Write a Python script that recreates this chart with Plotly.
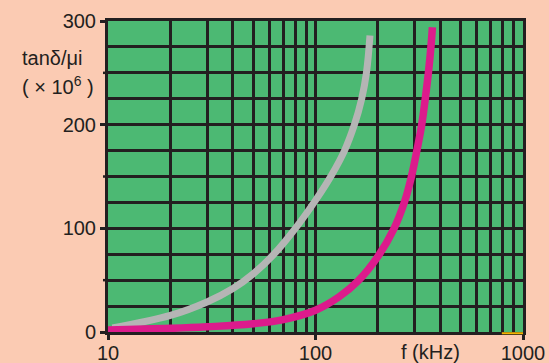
import plotly.graph_objects as go

# Frequency (kHz) and loss factor tanδ/μi (×10^-6) for the two materials
gray_freq = [10.5, 20, 30, 40, 50, 63, 80, 100, 120, 138, 154, 167, 176, 183]
gray_loss = [4, 16, 29, 42, 56, 75, 100, 127, 152, 175, 200, 225, 250, 286]

pink_freq = [10, 20, 30, 50, 70, 100, 130, 160, 200, 238, 268, 290, 308, 325, 338, 350, 360, 366]
pink_loss = [2, 3.5, 5, 8, 12, 21, 34, 49, 73, 99, 125, 150, 175, 200, 225, 250, 275, 294]

# Axis ticks and grid positions
y_ticks = [0, 100, 200, 300]
y_labels = ["0", "100", "200", "300"]
y_half_ticks = [50, 150, 250]
y_minor = [25, 50, 75, 125, 150, 175, 225, 250, 275]
x_ticks = [10, 100, 1000]
x_labels = ["10", "100", "1000"]
x_minor = [20, 30, 40, 50, 60, 70, 80, 90, 200, 300, 400, 500, 600, 700, 800, 900]

INK = "#231f20"
FONT = "Liberation Sans, Arial, sans-serif"
W, H = 549, 363
ML, MR, MT, MB = 108, 26, 21, 31

fig = go.Figure()
fig.add_trace(go.Scatter(
    x=gray_freq, y=gray_loss, mode="lines",
    line=dict(color="#b5b5b5", width=7, shape="spline", smoothing=1.1),
    showlegend=False, hoverinfo="skip"))
fig.add_trace(go.Scatter(
    x=pink_freq, y=pink_loss, mode="lines",
    line=dict(color="#dc1b8c", width=7.5, shape="spline", smoothing=1.2),
    showlegend=False, hoverinfo="skip"))

fig.update_layout(
    width=W, height=H,
    margin=dict(l=ML, r=MR, t=MT, b=MB, autoexpand=False),
    paper_bgcolor="#fbcbb3",
    plot_bgcolor="#4cb973",
    font=dict(family=FONT, size=20, color=INK),
    xaxis=dict(
        type="log", range=[1, 3], automargin=False,
        tickmode="array", tickvals=x_ticks, ticktext=x_labels,
        ticks="outside", ticklen=5, tickwidth=2.5, tickcolor=INK,
        ticklabelstandoff=-4,
        showgrid=True, gridcolor=INK, gridwidth=2.5,
        showline=True, linecolor=INK, linewidth=3, mirror=True,
        minor=dict(tickvals=x_minor, showgrid=True, gridcolor=INK, gridwidth=2.5, ticks=""),
        zeroline=False,
    ),
    yaxis=dict(
        range=[0, 300], automargin=False,
        tickmode="array", tickvals=y_ticks, ticktext=y_labels,
        ticks="outside", ticklen=5, tickwidth=2.5, tickcolor=INK,
        showgrid=True, gridcolor=INK, gridwidth=2.5,
        showline=True, linecolor=INK, linewidth=3, mirror=True,
        minor=dict(tickvals=y_minor, showgrid=True, gridcolor=INK, gridwidth=2.5, ticks=""),
        zeroline=False,
    ),
)

# Unlabelled tick marks halfway between the labelled ones
tick_len = 5 / (W - ML - MR)
for v in y_half_ticks:
    fig.add_shape(type="line", xref="paper", yref="y",
                  x0=-tick_len, x1=0, y0=v, y1=v,
                  line=dict(color=INK, width=2.5), layer="above")

# Axis titles
fig.add_annotation(text="tanδ/μi", xref="paper", yref="paper",
                   x=-0.212, y=0.881, xanchor="left", yanchor="middle",
                   showarrow=False, font=dict(family=FONT, size=20, color=INK))
fig.add_annotation(text="( × 10<sup>6</sup> )", xref="paper", yref="paper",
                   x=-0.212, y=0.794, xanchor="left", yanchor="middle",
                   showarrow=False, font=dict(family=FONT, size=20, color=INK))
fig.add_annotation(text="f (kHz)", xref="paper", yref="paper",
                   x=0.776, y=-0.065, xanchor="center", yanchor="middle",
                   showarrow=False, font=dict(family=FONT, size=20, color=INK))

# Short yellow stroke along the bottom edge at the right end
fig.add_shape(type="line", xref="paper", yref="paper",
              x0=0.949, x1=1.0, y0=-0.004, y1=-0.004,
              line=dict(color="#f2b400", width=2), layer="above")

fig.write_html("out.html")
